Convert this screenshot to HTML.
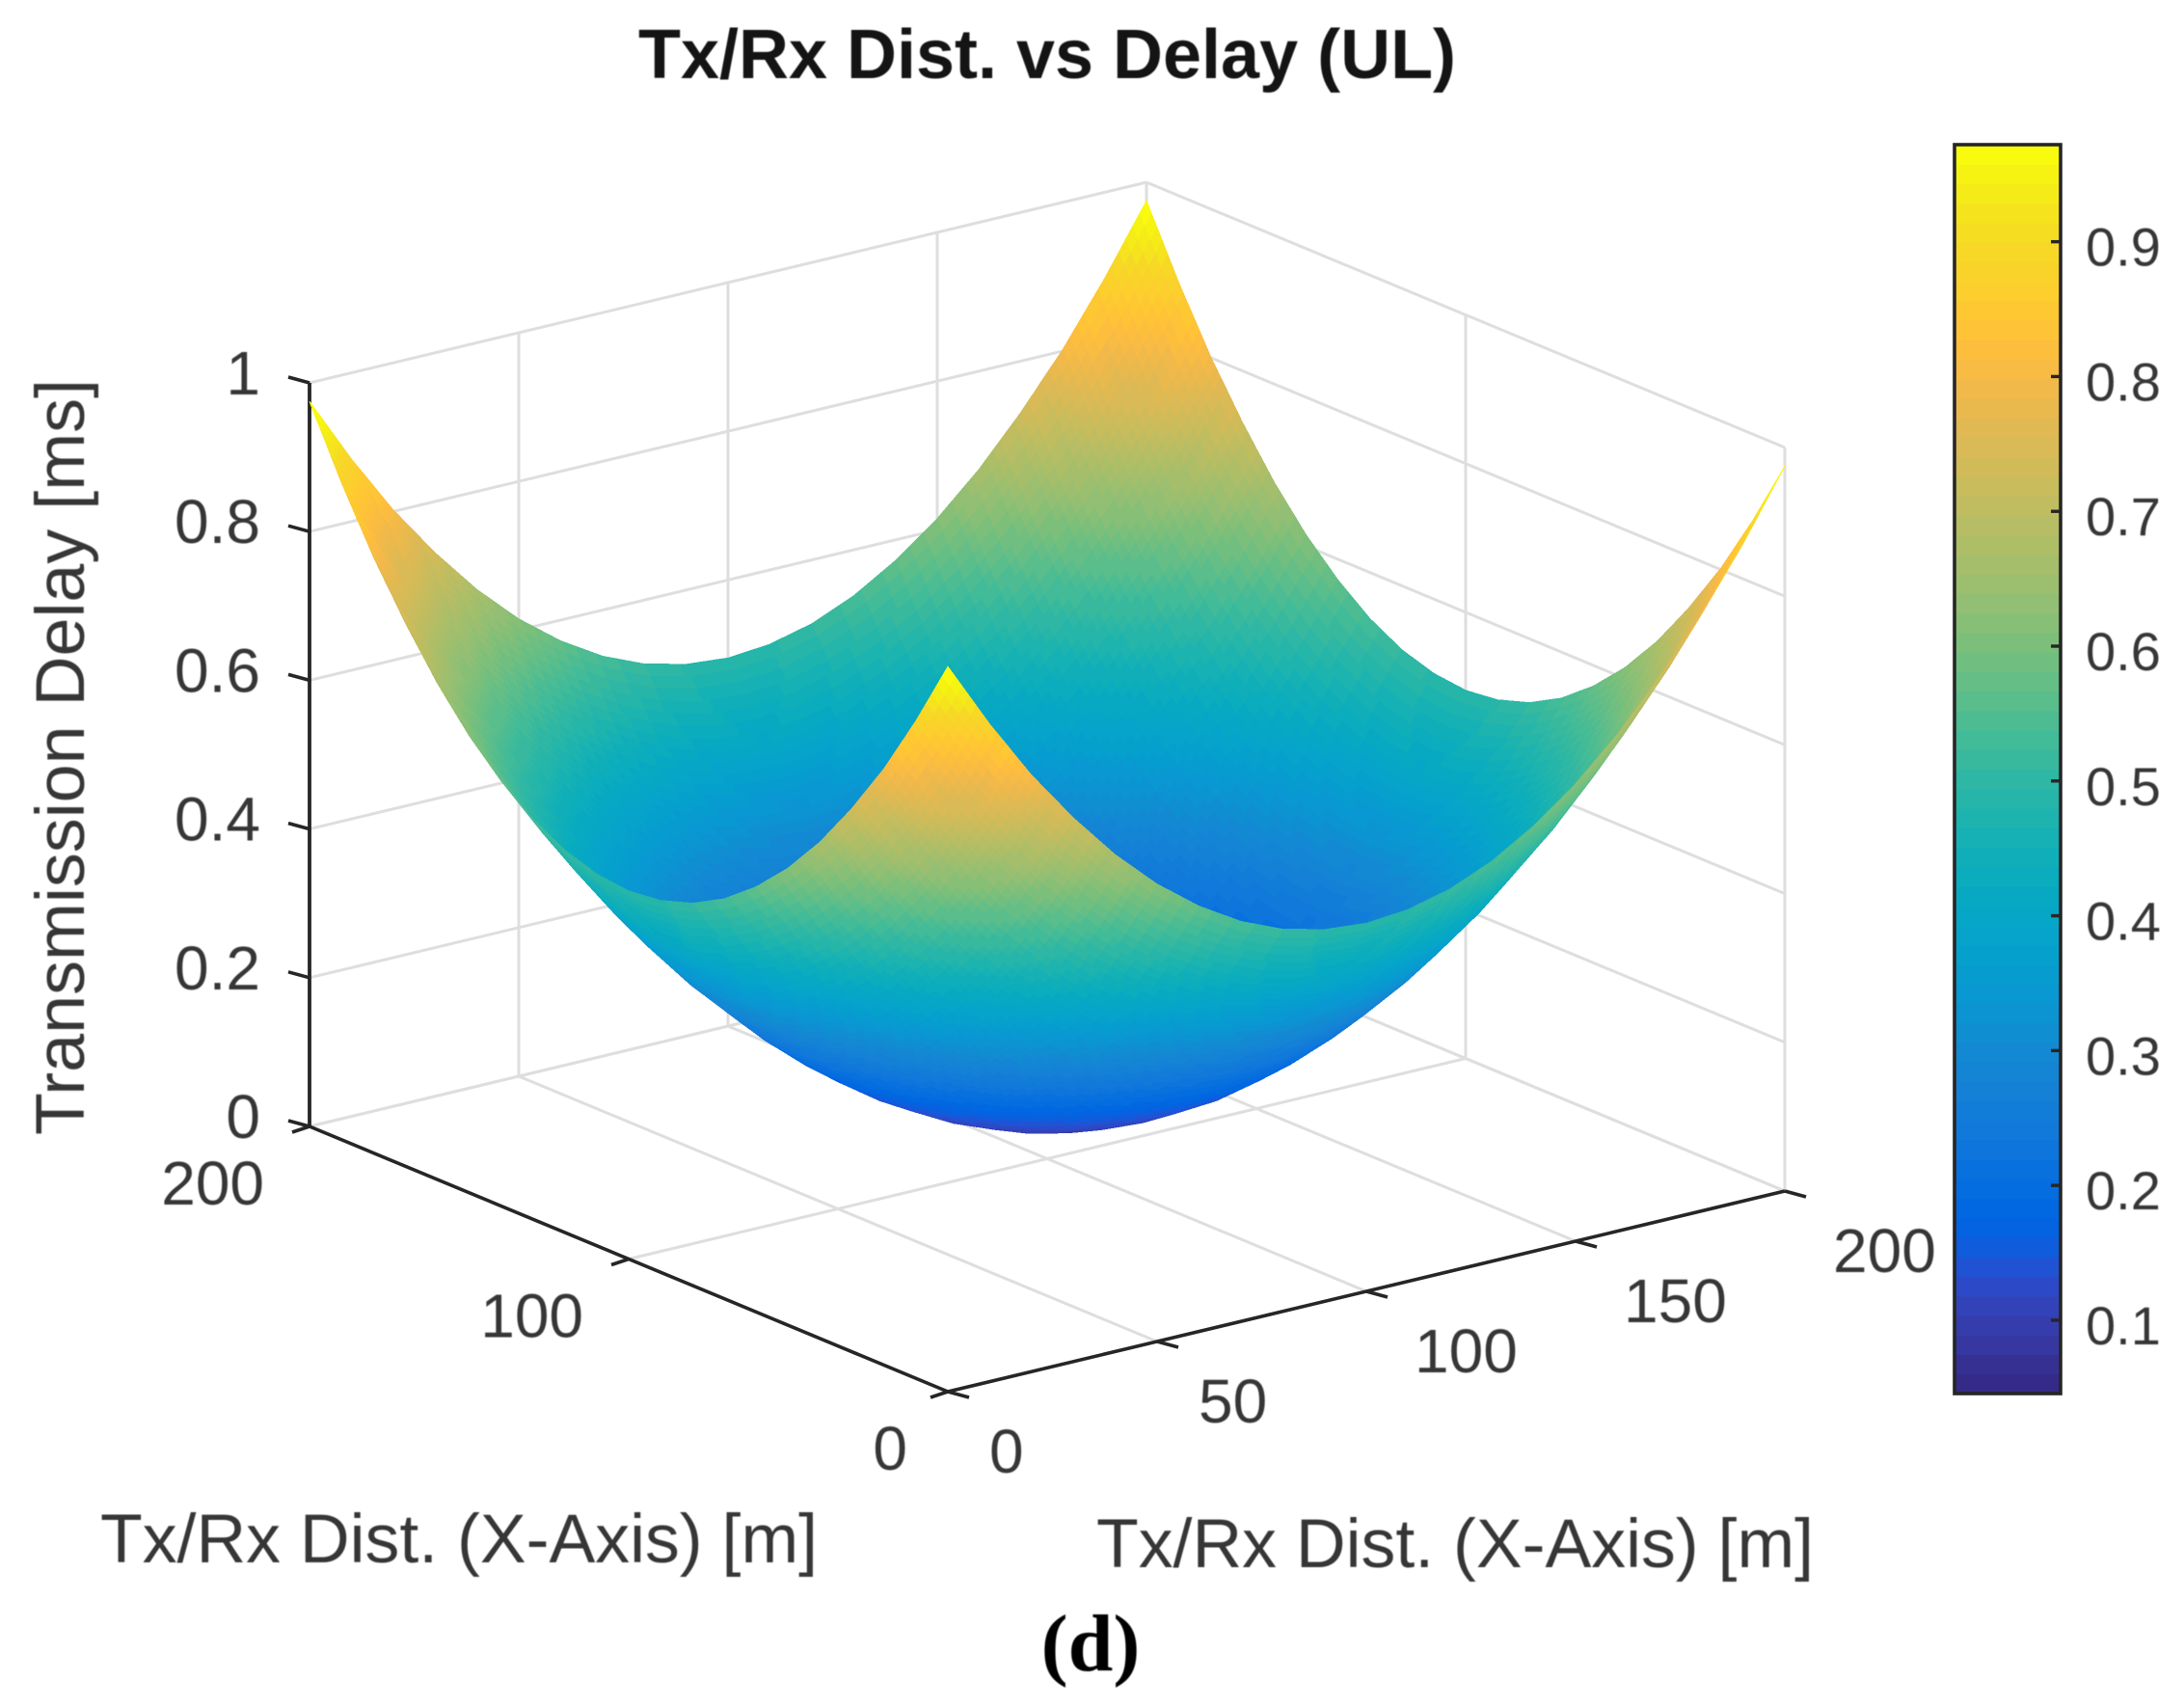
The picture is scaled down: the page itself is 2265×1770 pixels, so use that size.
<!DOCTYPE html>
<html lang="en">
<head>
<meta charset="utf-8">
<title>Tx/Rx Dist. vs Delay (UL)</title>
<style>
html,body{margin:0;padding:0;background:#fff;}
#chart{display:block;width:2265px;height:1770px;background:#fff;}
text{font-family:"Liberation Sans",Arial,sans-serif;fill:#363636;}
#overlay-text text,#tick-labels text{filter:blur(.5px);}
</style>
</head>
<body>
<svg id="chart" xmlns="http://www.w3.org/2000/svg" width="2265" height="1770" viewBox="0 0 2265 1770">
  <g id="walls"></g>
  <g id="axes"></g>
  <g id="surface" shape-rendering="crispEdges"></g>
  <g id="tick-labels"></g>
  <g id="colorbar"></g>
  <g id="overlay-text">
    <text x="662" y="81" font-size="72" font-weight="bold" style="fill:#141414" textLength="848" lengthAdjust="spacingAndGlyphs">Tx/Rx Dist. vs Delay (UL)</text>
    <text transform="translate(87,1177) rotate(-90)" font-size="71" textLength="784" lengthAdjust="spacingAndGlyphs">Transmission Delay [ms]</text>
    <text x="104" y="1620" font-size="71" textLength="744" lengthAdjust="spacingAndGlyphs">Tx/Rx Dist. (X-Axis) [m]</text>
    <text x="1137" y="1625" font-size="71" textLength="744" lengthAdjust="spacingAndGlyphs">Tx/Rx Dist. (X-Axis) [m]</text>
    <text x="1131" y="1732" font-size="84" font-weight="bold" text-anchor="middle" style="font-family:'Liberation Serif',serif;fill:#000">(d)</text>
  </g>
</svg>
<script>
// ---- data ----
const xTicks = [0, 50, 100, 150, 200];
const yTicks = [0, 100, 200];
const zTicks = [0, 0.2, 0.4, 0.6, 0.8, 1];
const zTickLabels = ['0', '0.2', '0.4', '0.6', '0.8', '1'];
const colorbarTicks = [0.1, 0.2, 0.3, 0.4, 0.5, 0.6, 0.7, 0.8, 0.9];
const colorMin = [0.0456];
const colorMax = [0.972];
// distance samples along both horizontal axes (m)
const gridDistances = [0,10,20,30,40,50,60,70,80,90,100,110,120,130,140,150,160,170,180,190,200];
// transmission delay (ms): rows follow y, columns follow x
const delayGrid = [
[.975,.884,.802,.731,.668,.615,.572,.538,.514,.500,.495,.500,.514,.538,.572,.615,.668,.731,.802,.884,.975],
[.884,.795,.714,.644,.583,.531,.488,.456,.432,.417,.413,.417,.432,.456,.488,.531,.583,.644,.714,.795,.884],
[.802,.714,.635,.566,.506,.455,.413,.381,.357,.343,.339,.343,.357,.381,.413,.455,.506,.566,.635,.714,.802],
[.731,.644,.566,.499,.440,.389,.348,.316,.293,.279,.275,.279,.293,.316,.348,.389,.440,.499,.566,.644,.731],
[.668,.583,.506,.440,.381,.331,.291,.260,.237,.223,.219,.223,.237,.260,.291,.331,.381,.440,.506,.583,.668],
[.615,.531,.455,.389,.331,.282,.242,.211,.189,.175,.171,.175,.189,.211,.242,.282,.331,.389,.455,.531,.615],
[.572,.488,.413,.348,.291,.242,.202,.172,.149,.136,.132,.136,.149,.172,.202,.242,.291,.348,.413,.488,.572],
[.538,.456,.381,.316,.260,.211,.172,.141,.119,.106,.102,.106,.119,.141,.172,.211,.260,.316,.381,.456,.538],
[.514,.432,.357,.293,.237,.189,.149,.119,.097,.084,.080,.084,.097,.119,.149,.189,.237,.293,.357,.432,.514],
[.500,.417,.343,.279,.223,.175,.136,.106,.084,.071,.067,.071,.084,.106,.136,.175,.223,.279,.343,.417,.500],
[.495,.413,.339,.275,.219,.171,.132,.102,.080,.067,.063,.067,.080,.102,.132,.171,.219,.275,.339,.413,.495],
[.500,.417,.343,.279,.223,.175,.136,.106,.084,.071,.067,.071,.084,.106,.136,.175,.223,.279,.343,.417,.500],
[.514,.432,.357,.293,.237,.189,.149,.119,.097,.084,.080,.084,.097,.119,.149,.189,.237,.293,.357,.432,.514],
[.538,.456,.381,.316,.260,.211,.172,.141,.119,.106,.102,.106,.119,.141,.172,.211,.260,.316,.381,.456,.538],
[.572,.488,.413,.348,.291,.242,.202,.172,.149,.136,.132,.136,.149,.172,.202,.242,.291,.348,.413,.488,.572],
[.615,.531,.455,.389,.331,.282,.242,.211,.189,.175,.171,.175,.189,.211,.242,.282,.331,.389,.455,.531,.615],
[.668,.583,.506,.440,.381,.331,.291,.260,.237,.223,.219,.223,.237,.260,.291,.331,.381,.440,.506,.583,.668],
[.731,.644,.566,.499,.440,.389,.348,.316,.293,.279,.275,.279,.293,.316,.348,.389,.440,.499,.566,.644,.731],
[.802,.714,.635,.566,.506,.455,.413,.381,.357,.343,.339,.343,.357,.381,.413,.455,.506,.566,.635,.714,.802],
[.884,.795,.714,.644,.583,.531,.488,.456,.432,.417,.413,.417,.432,.456,.488,.531,.583,.644,.714,.795,.884],
[.975,.884,.802,.731,.668,.615,.572,.538,.514,.500,.495,.500,.514,.538,.572,.615,.668,.731,.802,.884,.975]
];
const parula = [
[.2081,.1663,.5292],[.2116,.1898,.5777],[.2123,.2138,.6270],[.2081,.2386,.6771],[.1959,.2645,.7279],[.1707,.2919,.7792],[.1253,.3242,.8303],[.0591,.3598,.8683],
[.0117,.3875,.8820],[.0060,.4086,.8828],[.0165,.4266,.8786],[.0329,.4430,.8720],[.0498,.4586,.8641],[.0629,.4737,.8554],[.0723,.4887,.8467],[.0779,.5040,.8384],
[.0793,.5200,.8312],[.0749,.5375,.8263],[.0641,.5570,.8240],[.0488,.5772,.8228],[.0343,.5966,.8199],[.0265,.6137,.8135],[.0239,.6287,.8038],[.0231,.6418,.7913],
[.0228,.6535,.7768],[.0267,.6642,.7607],[.0384,.6743,.7436],[.0590,.6838,.7254],[.0843,.6928,.7062],[.1133,.7015,.6859],[.1453,.7098,.6646],[.1801,.7177,.6424],
[.2178,.7250,.6193],[.2586,.7317,.5954],[.3022,.7376,.5712],[.3482,.7424,.5473],[.3953,.7459,.5244],[.4420,.7481,.5033],[.4871,.7491,.4840],[.5300,.7491,.4661],
[.5709,.7485,.4494],[.6099,.7473,.4337],[.6473,.7456,.4188],[.6834,.7435,.4044],[.7184,.7411,.3905],[.7525,.7384,.3768],[.7858,.7356,.3633],[.8185,.7327,.3498],
[.8507,.7299,.3360],[.8824,.7274,.3217],[.9139,.7258,.3063],[.9450,.7261,.2886],[.9739,.7314,.2666],[.9938,.7455,.2403],[.9990,.7653,.2164],[.9955,.7861,.1967],
[.9880,.8066,.1794],[.9789,.8271,.1633],[.9697,.8481,.1475],[.9626,.8705,.1309],[.9589,.8949,.1132],[.9598,.9218,.0948],[.9661,.9514,.0755],[.9763,.9831,.0538]
];

// ---- axis functions ----
const SVGNS = 'http://www.w3.org/2000/svg';
const FRONT = {x: 983, y: 1443};
const RIGHT = {x: 1851, y: 1235};
const LEFT = {x: 321, y: 1168};
const Z_PX = 771;
function project(x, y, z) {
  const u = x / 200, v = y / 200;
  return {
    x: FRONT.x + u * (RIGHT.x - FRONT.x) + v * (LEFT.x - FRONT.x),
    y: FRONT.y + u * (RIGHT.y - FRONT.y) + v * (LEFT.y - FRONT.y) - z * Z_PX
  };
}
const CB = {left: 2027, right: 2137, top: 150, bottom: 1445};
function colorbarY(v) {
  return CB.bottom - (v - colorMin[0]) / (colorMax[0] - colorMin[0]) * (CB.bottom - CB.top);
}
function colorOf(v) {
  let i = Math.floor((v - colorMin[0]) / (colorMax[0] - colorMin[0]) * parula.length);
  i = Math.max(0, Math.min(parula.length - 1, i));
  const c = parula[i];
  return 'rgb(' + Math.round(c[0] * 255) + ',' + Math.round(c[1] * 255) + ',' + Math.round(c[2] * 255) + ')';
}
function drawLine(parent, a, b, name, stroke, width) {
  const el = document.createElementNS(SVGNS, 'line');
  el.setAttribute('x1', a.x);
  el.setAttribute('y1', a.y);
  el.setAttribute('x2', b.x);
  el.setAttribute('y2', b.y);
  el.setAttribute('stroke', stroke);
  el.setAttribute('stroke-width', width);
  
  
  parent.appendChild(el);
}
function drawText(parent, px, py, str, anchor, size, name) {
  const el = document.createElementNS(SVGNS, 'text');
  el.setAttribute('x', px);
  el.setAttribute('y', py);
  el.setAttribute('text-anchor', anchor);
  el.setAttribute('font-size', size);
  el.textContent = str;
  
  
  parent.appendChild(el);
}

// ---- grid ----
const walls = document.getElementById('walls');
const GRID = '#dedede';
const GRIDW = 3;
const X_MAX = xTicks[xTicks.length - 1];
const Y_MAX = yTicks[yTicks.length - 1];
const Z_MAX = zTicks[zTicks.length - 1];
zTicks.forEach(function (z) {
  drawLine(walls, project(0, Y_MAX, z), project(X_MAX, Y_MAX, z), 'grid-line-z-back-left', GRID, GRIDW);
  drawLine(walls, project(X_MAX, Y_MAX, z), project(X_MAX, 0, z), 'grid-line-z-back-right', GRID, GRIDW);
});
xTicks.forEach(function (x) {
  drawLine(walls, project(x, 0, 0), project(x, Y_MAX, 0), 'grid-line-x-floor', GRID, GRIDW);
  drawLine(walls, project(x, Y_MAX, 0), project(x, Y_MAX, Z_MAX), 'grid-line-x-wall', GRID, GRIDW);
});
yTicks.forEach(function (y) {
  drawLine(walls, project(0, y, 0), project(X_MAX, y, 0), 'grid-line-y-floor', GRID, GRIDW);
  drawLine(walls, project(X_MAX, y, 0), project(X_MAX, y, Z_MAX), 'grid-line-y-wall', GRID, GRIDW);
});

// ---- axes ----
const axes = document.getElementById('axes');
const INK = '#262626';
const labels = document.getElementById('tick-labels');
drawLine(axes, project(0, 0, 0), project(X_MAX, 0, 0), 'x-axis-line', INK, 3.6);
drawLine(axes, project(0, 0, 0), project(0, Y_MAX, 0), 'y-axis-line', INK, 3.6);
drawLine(axes, project(0, Y_MAX, 0), project(0, Y_MAX, Z_MAX), 'z-axis-line', INK, 3.8);
xTicks.forEach(function (x) {
  const p = project(x, 0, 0);
  const text = String(x);
  drawLine(axes, p, {x: p.x + 22, y: p.y + 6}, 'x-axis-tick', INK, 3.6);
  drawText(labels, p.x + (text.length === 3 ? 50 : 43), p.y + 84, text, 'start', 64, 'x-tick-label');
});
yTicks.forEach(function (y) {
  const p = project(0, y, 0);
  const text = String(y);
  drawLine(axes, p, {x: p.x - 18, y: p.y + 6}, 'y-axis-tick', INK, 3.6);
  drawText(labels, p.x - (text.length === 3 ? 47 : 42), p.y + 81, text, 'end', 64, 'y-tick-label');
});
zTicks.forEach(function (z, i) {
  const p = project(0, Y_MAX, z);
  drawLine(axes, p, {x: p.x - 22, y: p.y - 6}, 'z-axis-tick', INK, 3.6);
  drawText(labels, p.x - 51, p.y + 12, zTickLabels[i], 'end', 64, 'z-tick-label');
});

// ---- surface (back to front) ----
const surface = document.getElementById('surface');
const SUB = 6;
const last = gridDistances.length - 1;
function sampleDelay(fy, fx) {
  const r = Math.min(last - 1, Math.floor(fy)), c = Math.min(last - 1, Math.floor(fx));
  const ty = fy - r, tx = fx - c;
  return (delayGrid[r][c] * (1 - tx) + delayGrid[r][c + 1] * tx) * (1 - ty) +
         (delayGrid[r + 1][c] * (1 - tx) + delayGrid[r + 1][c + 1] * tx) * ty;
}
function sampleDist(f) {
  const i = Math.min(last - 1, Math.floor(f));
  return gridDistances[i] + (gridDistances[i + 1] - gridDistances[i]) * (f - i);
}
const frag = document.createDocumentFragment();
const steps = last * SUB;
for (let b = steps - 1; b >= 0; b--) {
  for (let a = steps - 1; a >= 0; a--) {
    const fx0 = a / SUB, fx1 = (a + 1) / SUB, fy0 = b / SUB, fy1 = (b + 1) / SUB;
    const zs = [sampleDelay(fy0, fx0), sampleDelay(fy0, fx1), sampleDelay(fy1, fx1), sampleDelay(fy1, fx0)];
    const pts = [
      project(sampleDist(fx0), sampleDist(fy0), zs[0]),
      project(sampleDist(fx1), sampleDist(fy0), zs[1]),
      project(sampleDist(fx1), sampleDist(fy1), zs[2]),
      project(sampleDist(fx0), sampleDist(fy1), zs[3])
    ];
    const col = colorOf((zs[0] + zs[1] + zs[2] + zs[3]) / 4);
    const poly = document.createElementNS(SVGNS, 'polygon');
    poly.setAttribute('points', pts.map(function (p) { return p.x.toFixed(1) + ',' + p.y.toFixed(1); }).join(' '));
    poly.setAttribute('fill', col);
    poly.setAttribute('stroke', col);
    poly.setAttribute('stroke-width', '1');
    
    
    frag.appendChild(poly);
  }
}
surface.appendChild(frag);

// ---- colorbar ----
const cbar = document.getElementById('colorbar');
parula.forEach(function (c, i) {
  const lo = colorMin[0] + (colorMax[0] - colorMin[0]) * i / parula.length;
  const hi = colorMin[0] + (colorMax[0] - colorMin[0]) * (i + 1) / parula.length;
  const band = document.createElementNS(SVGNS, 'rect');
  band.setAttribute('x', CB.left);
  band.setAttribute('y', colorbarY(hi));
  band.setAttribute('width', CB.right - CB.left);
  band.setAttribute('height', colorbarY(lo) - colorbarY(hi) + 0.6);
  band.setAttribute('fill', colorOf((lo + hi) / 2));
  
  
  cbar.appendChild(band);
});
const frame = document.createElementNS(SVGNS, 'rect');
frame.setAttribute('x', CB.left);
frame.setAttribute('y', CB.top);
frame.setAttribute('width', CB.right - CB.left);
frame.setAttribute('height', CB.bottom - CB.top);
frame.setAttribute('fill', 'none');
frame.setAttribute('stroke', INK);
frame.setAttribute('stroke-width', '3.6');


cbar.appendChild(frame);
colorbarTicks.forEach(function (v) {
  const y = colorbarY(v);
  drawLine(cbar, {x: CB.right - 10, y: y}, {x: CB.right, y: y}, 'colorbar-tick', INK, 3.4);
  drawText(labels, 2163, y + 25, v.toFixed(1), 'start', 56, 'colorbar-tick-label');
});
</script>
</body>
</html>
